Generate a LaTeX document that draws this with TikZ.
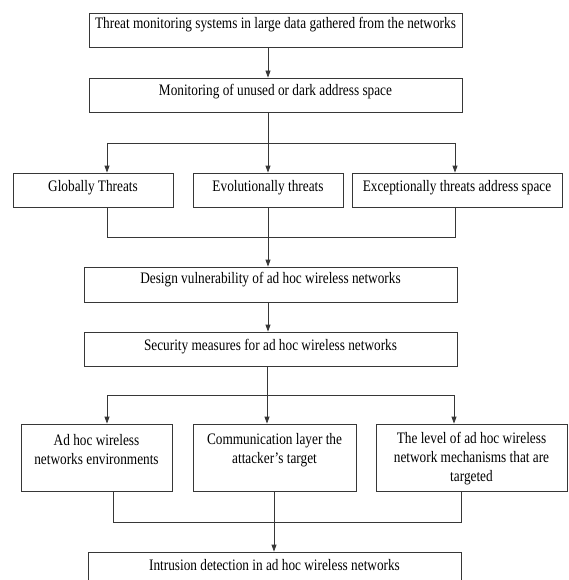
\documentclass[tikz,border=0pt]{standalone}
\usepackage{fontspec}
\setmainfont{Liberation Serif}[FakeStretch=0.83]
\usepackage{tikz}
\usetikzlibrary{arrows.meta}
\definecolor{edge1}{RGB}{55,55,55}

\begin{document}
\begin{tikzpicture}[x=1pt,y=-1pt,
  every node/.style={draw=edge1, rectangle, line width=0.8pt, inner sep=2pt, align=center,
    font=\fontsize{16}{19}\selectfont, text height=11pt, text depth=10pt},
  link/.style={draw=edge1, line width=0.8pt},
  arr/.style={link, -{Triangle[length=7pt,width=5pt]}}]
\useasboundingbox (0,0) rectangle (568,580);
\clip (0,0) rectangle (568,580);
% Boxes
\node[minimum width=373pt, minimum height=34pt, text depth=14pt] (thr) at (275.5,30) {Threat monitoring systems in large data gathered from the networks};
\node[minimum width=373pt, minimum height=34pt] (mon) at (275.5,95) {Monitoring of unused or dark address space};
\node[minimum width=160pt, minimum height=34pt, text depth=8pt] (glob) at (93,190) {Globally Threats};
\node[minimum width=150pt, minimum height=34pt, text depth=8pt] (evol) at (268,190) {Evolutionally threats};
\node[minimum width=210pt, minimum height=34pt, text depth=8pt] (exc) at (457,190) {Exceptionally threats address space};
\node[minimum width=373pt, minimum height=35pt, text depth=13pt] (des) at (270.5,284.5) {Design vulnerability of ad hoc wireless networks};
\node[minimum width=373pt, minimum height=34pt, text depth=8pt] (sec) at (270.5,349) {Security measures for ad hoc wireless networks};
\node[minimum width=151pt, minimum height=67pt, text height=30pt, text depth=16pt] (env) at (96.5,457.5) {Ad hoc wireless\\networks environments};
\node[minimum width=163pt, minimum height=67pt, text height=30pt, text depth=18pt] (lay) at (274.5,457.5) {Communication layer the\\attacker’s target};
\node[minimum width=191pt, minimum height=67pt, text height=49pt, text depth=2pt] (lev) at (471.5,457.5) {The level of ad hoc wireless\\network mechanisms that are\\targeted};
\node[minimum width=373pt, minimum height=40pt, text depth=14pt] (ids) at (274.5,572) {Intrusion detection in ad hoc wireless networks};

% Joints
\coordinate (s1) at (268,143);
\coordinate (s1l) at (107,143);
\coordinate (s1r) at (455,143);
\coordinate (m1) at (268,237);
\coordinate (m1l) at (107,237);
\coordinate (m1r) at (455,237);
\coordinate (s2) at (267,395);
\coordinate (s2l) at (107,395);
\coordinate (s2r) at (454,395);
\coordinate (m2) at (274,522);
\coordinate (m2l) at (113,522);
\coordinate (m2r) at (461,522);

%Lines
\draw[arr] (thr.south -| s1) -- (mon.north -| s1);
\draw[link] (mon.south -| s1) -- (s1);
\draw[link] (s1l) -- (s1r);
\draw[arr] (s1l) -- (s1l |- glob.north);
\draw[arr] (s1) -- (evol.north -| s1);
\draw[arr] (s1r) -- (s1r |- exc.north);
\draw[link] (glob.south -| m1l) -- (m1l) -- (m1r) -- (exc.south -| m1r);
\draw[arr] (evol.south -| m1) -- (des.north -| m1);
\draw[arr] (des.south -| m1) -- (sec.north -| m1);
\draw[link] (sec.south -| s2) -- (s2);
\draw[link] (s2l) -- (s2r);
\draw[arr] (s2l) -- (s2l |- env.north);
\draw[arr] (s2) -- (lay.north -| s2);
\draw[arr] (s2r) -- (s2r |- lev.north);
\draw[link] (env.south -| m2l) -- (m2l) -- (m2r) -- (lev.south -| m2r);
\draw[link] (lay.south -| m2) -- (m2);
\draw[arr] (m2) -- (ids.north -| m2);
\end{tikzpicture}
\end{document}
